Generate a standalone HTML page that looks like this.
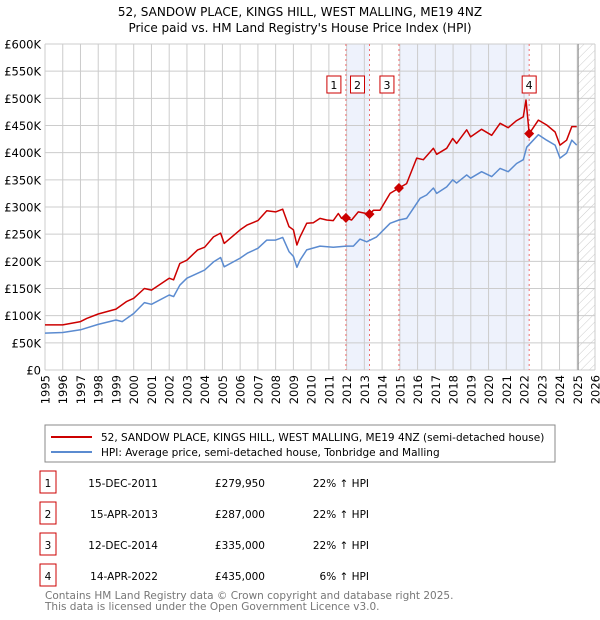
<!DOCTYPE html>
<html><head><meta charset="utf-8"><style>
body{margin:0;background:#fff;font-family:"DejaVu Sans","Liberation Sans",sans-serif;}
#wrap{position:relative;width:600px;height:620px;overflow:hidden;}
</style></head><body><div id="wrap">
<svg id="svg" width="600" height="620" xmlns="http://www.w3.org/2000/svg" style="position:absolute;left:0;top:0;font-family:'DejaVu Sans','Liberation Sans',sans-serif">
<defs><pattern id="hatch" width="6" height="6" patternUnits="userSpaceOnUse" patternTransform="rotate(45)"><line x1="0" y1="0" x2="0" y2="6" stroke="#ccc" stroke-width="1"/></pattern></defs>
<text x="300" y="16" text-anchor="middle" font-size="12" fill="#000">52, SANDOW PLACE, KINGS HILL, WEST MALLING, ME19 4NZ</text>
<text x="300" y="32" text-anchor="middle" font-size="12" fill="#000">Price paid vs. HM Land Registry's House Price Index (HPI)</text>
<g id="plot"></g>
<g id="legend">
<rect x="45" y="425" width="510" height="37" fill="#fff" stroke="#888"/>
<line x1="51" y1="437" x2="92" y2="437" stroke="#cc0000" stroke-width="2"/>
<text x="101" y="441" font-size="10.5">52, SANDOW PLACE, KINGS HILL, WEST MALLING, ME19 4NZ (semi-detached house)</text>
<line x1="51" y1="452" x2="92" y2="452" stroke="#5b8bd0" stroke-width="2"/>
<text x="101" y="456" font-size="10.5">HPI: Average price, semi-detached house, Tonbridge and Malling</text>
</g>
<g id="table"></g>
<text x="45" y="599" font-size="10.5" fill="#777">Contains HM Land Registry data © Crown copyright and database right 2025.</text>
<text x="45" y="610" font-size="10.5" fill="#777">This data is licensed under the Open Government Licence v3.0.</text>
</svg>
</div>
<script>
const yTicks=[0,50,100,150,200,250,300,350,400,450,500,550,600];
const yTickLabels=["£0","£50K","£100K","£150K","£200K","£250K","£300K","£350K","£400K","£450K","£500K","£550K","£600K"];
const xYears=[1995,1996,1997,1998,1999,2000,2001,2002,2003,2004,2005,2006,2007,2008,2009,2010,2011,2012,2013,2014,2015,2016,2017,2018,2019,2020,2021,2022,2023,2024,2025,2026];
const redYears=[1995,1996,1997,1997.35,1998,1999,1999.6,2000,2000.6,2001,2002,2002.25,2002.6,2003,2003.6,2004,2004.5,2004.9,2005.1,2006,2006.4,2007,2007.5,2008,2008.4,2008.75,2009,2009.2,2009.37,2009.75,2010.12,2010.5,2010.88,2011.25,2011.53,2011.72,2011.96,2012.28,2012.66,2013.29,2013.51,2013.88,2014.45,2014.95,2015.38,2015.95,2016.32,2016.89,2017.08,2017.64,2017.98,2018.2,2018.77,2018.99,2019.61,2020.18,2020.65,2021.11,2021.58,2021.96,2022.11,2022.29,2022.81,2023.28,2023.75,2024.03,2024.4,2024.69,2024.97];
const redVals=[83,83,89,95,103,112,126,132,150,147,169,166,196,202,221,226,245,252,233,258,267,275,293,291,296,264,258,230,245,270,271,279,276,275,288,279,280,276,291,287,294,294,325,335,343,390,387,408,397,408,426,417,442,429,443,432,454,446,459,466,497,435,460,451,438,414,423,448,448];
const blueYears=[1995,1996,1997,1998,1999,1999.35,2000,2000.6,2001,2002,2002.25,2002.6,2003,2003.8,2004,2004.5,2004.9,2005.1,2006,2006.4,2007,2007.5,2008,2008.4,2008.75,2009,2009.2,2009.37,2009.75,2010.5,2011.25,2011.98,2012.38,2012.75,2013.13,2013.69,2014.45,2014.95,2015.38,2016.14,2016.51,2016.89,2017.08,2017.64,2017.98,2018.2,2018.77,2018.99,2019.61,2020.18,2020.65,2021.11,2021.58,2021.96,2022.15,2022.81,2023.28,2023.75,2024.03,2024.4,2024.69,2024.97];
const blueVals=[68,69,74,84,92,89,104,124,121,138,135,156,169,181,184,199,207,190,206,215,224,239,239,244,218,209,189,202,221,228,226,228,228,241,236,245,270,276,279,316,322,335,325,337,350,344,359,353,365,356,371,365,380,387,410,433,423,414,390,399,423,414];
const saleYears=[2011.96,2013.29,2014.95,2022.29];
const saleVals=[279.95,287,335,435];
const saleDates=["15-DEC-2011","15-APR-2013","12-DEC-2014","14-APR-2022"];
const salePrices=["£279,950","£287,000","£335,000","£435,000"];
const saleHpi=["22% ↑ HPI","22% ↑ HPI","22% ↑ HPI","6% ↑ HPI"];

const NS="http://www.w3.org/2000/svg";
const X0=45,X1=595,Y0=370,Y1=44;
const xs=y=>X0+(y-1995)/(2026-1995)*(X1-X0);
const ys=v=>Y0-v/600*(Y0-Y1);
function mk(tag,attrs,parent){const e=document.createElementNS(NS,tag);for(const k in attrs)e.setAttribute(k,attrs[k]);parent.appendChild(e);return e;}
const plot=document.getElementById('plot');
let e;
e=mk('rect',{x:X0,y:Y1,width:X1-X0,height:Y0-Y1,fill:'#fff'},plot);


e=mk('rect',{x:xs(saleYears[0]),y:Y1,width:xs(saleYears[1])-xs(saleYears[0]),height:Y0-Y1,fill:'#eef2fc'},plot);


e=mk('rect',{x:xs(saleYears[2]),y:Y1,width:xs(saleYears[3])-xs(saleYears[2]),height:Y0-Y1,fill:'#eef2fc'},plot);


e=mk('rect',{x:xs(2025.0),y:Y1,width:X1-xs(2025.0),height:Y0-Y1,fill:'url(#hatch)'},plot);


yTicks.forEach((t,i)=>{
  e=mk('line',{x1:X0,x2:X1,y1:ys(t),y2:ys(t),stroke:'#ccc','stroke-width':1},plot);
  
  
  e=mk('text',{x:X0-4,y:ys(t)+4.5,'text-anchor':'end','font-size':11.5,fill:'#000'},plot);
  e.textContent=yTickLabels[i];
  
  
});
xYears.forEach(yr=>{
  e=mk('line',{x1:xs(yr),x2:xs(yr),y1:Y1,y2:Y0,stroke:'#ccc','stroke-width':1},plot);
  
  
  e=mk('text',{x:0,y:0,'text-anchor':'end','font-size':11.5,fill:'#000',transform:`translate(${xs(yr)+4.5},${Y0+5}) rotate(-90)`},plot);
  e.textContent=String(yr);
  
  
});
e=mk('line',{x1:xs(2025.05),x2:xs(2025.05),y1:Y1,y2:Y0,stroke:'#888','stroke-width':1},plot);


saleYears.forEach((yr,i)=>{
  e=mk('line',{x1:xs(yr),x2:xs(yr),y1:Y1,y2:Y0,stroke:'#f07070','stroke-width':1,'stroke-dasharray':'2,3'},plot);
  
  
});
function poly(yrs,vals,color){
  const p=yrs.map((y,i)=>xs(y).toFixed(1)+','+ys(vals[i]).toFixed(1)).join(' ');
  return mk('polyline',{points:p,fill:'none',stroke:color,'stroke-width':1.5,'stroke-linejoin':'round'},plot);
}
e=poly(blueYears,blueVals,'#5b8bd0');


e=poly(redYears,redVals,'#cc0000');


saleYears.forEach((yr,i)=>{
  const cx=xs(yr),cy=ys(saleVals[i]);
  e=mk('polygon',{points:`${cx},${cy-5} ${cx+5},${cy} ${cx},${cy+5} ${cx-5},${cy}`,fill:'#cc0000'},plot);
  
  
  const left=(i===3)?cx-7:cx-19;
  e=mk('rect',{x:left,y:76,width:14,height:17,fill:'#fff',stroke:'#cc0000'},plot);
  
  
  e=mk('text',{x:left+7,y:89,'text-anchor':'middle','font-size':11},plot);
  e.textContent=String(i+1);
  
  
});
const tbl=document.getElementById('table');
saleDates.forEach((d,i)=>{
  const y=483+i*31;
  e=mk('rect',{x:40,y:y-12,width:16,height:22,fill:'#fff',stroke:'#cc0000'},tbl);
  
  
  e=mk('text',{x:48,y:y+4,'text-anchor':'middle','font-size':10.5},tbl);
  e.textContent=String(i+1);
  
  
  e=mk('text',{x:158,y:y+4,'text-anchor':'end','font-size':10.5},tbl);
  e.textContent=d;
  
  
  e=mk('text',{x:265,y:y+4,'text-anchor':'end','font-size':10.5},tbl);
  e.textContent=salePrices[i];
  
  
  e=mk('text',{x:369,y:y+4,'text-anchor':'end','font-size':10.5},tbl);
  e.textContent=saleHpi[i];
  
  
});
</script></body></html>
